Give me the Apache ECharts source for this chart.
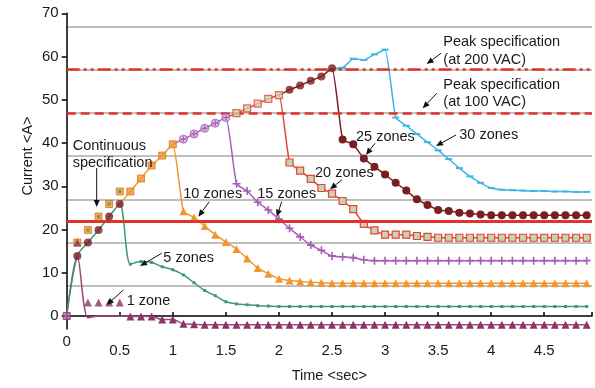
<!DOCTYPE html>
<html>
<head>
<meta charset="utf-8">
<script src="https://cdn.jsdelivr.net/npm/echarts@6/dist/echarts.min.js"></script>
<style>
  html, body { margin: 0; padding: 0; background: #fff; }
  #chart { width: 595px; height: 388px; }
</style>
</head>
<body>
<div id="chart"></div>
<script>
// sample times, sec
var times = [0, 0.1, 0.2, 0.3, 0.4, 0.5, 0.6, 0.7, 0.8, 0.9,
  1, 1.1, 1.2, 1.3, 1.4, 1.5, 1.6, 1.7, 1.8, 1.9,
  2, 2.1, 2.2, 2.3, 2.4, 2.5, 2.6, 2.7, 2.8, 2.9,
  3, 3.1, 3.2, 3.3, 3.4, 3.5, 3.6, 3.7, 3.8, 3.9,
  4, 4.1, 4.2, 4.3, 4.4, 4.5, 4.6, 4.7, 4.8, 4.9]

// common rising current (t = 0 .. 2.5)
var rise = [0, 13.9, 17.0, 19.9, 23.0, 25.9, 28.8, 31.8, 34.8, 37.1,
  39.7, 40.9, 42.1, 43.4, 44.6, 45.9, 46.9, 48.0, 49.1, 50.2,
  51.1, 52.3, 53.3, 54.4, 55.4, 57.3]

// values after each curve leaves the common rise
var oneZone = [-0.4, 0.0, 0.0, 0.0, -0.1, -0.1, -0.1, -0.8, -0.8, -1.8, -1.9,
  -2.0, -2.0, -2.0, -2.0, -2.0, -2.0, -2.0, -2.0, -2.0, -2.0, -2.0, -2.0, -2.0,
  -2.0, -2.0, -2.0, -2.0, -2.0, -2.0, -2.0, -2.0, -2.0, -2.0, -2.0, -2.0, -2.0,
  -2.0, -2.0, -2.0, -2.0, -2.0, -2.0, -2.0, -2.0, -2.0, -2.0, -2.0]
var fiveZones = [12.0, 12.6, 12.4, 11.4, 10.7, 9.5, 7.7, 5.9, 4.7, 3.3,
  2.8, 2.6, 2.4, 2.3, 2.2, 2.2, 2.2, 2.2, 2.2, 2.2, 2.2, 2.2, 2.2, 2.2, 2.2,
  2.2, 2.2, 2.2, 2.2, 2.2, 2.2, 2.2, 2.2, 2.2, 2.2, 2.2, 2.2, 2.2, 2.2, 2.2,
  2.2, 2.2, 2.2, 2.2]
var tenZones = [24.2, 22.8, 20.8, 18.8, 17.1, 15.5, 13.3, 11.1, 9.8, 8.6,
  8.2, 8.0, 7.8, 7.7, 7.6, 7.6, 7.6, 7.6, 7.6, 7.6, 7.6, 7.6, 7.6, 7.6, 7.6,
  7.6, 7.6, 7.6, 7.6, 7.6, 7.6, 7.6, 7.6, 7.6, 7.6, 7.6, 7.6, 7.6, 7.6]
var fifteenZones = [30.6, 28.9, 26.3, 24.5, 22.4, 20.3, 18.3, 16.4, 15.2, 13.9,
  13.7, 13.5, 13.0, 12.8, 12.8, 12.8, 12.8, 12.8, 12.8, 12.8, 12.8, 12.8, 12.8,
  12.8, 12.8, 12.8, 12.8, 12.8, 12.8, 12.8, 12.8, 12.8, 12.8, 12.8]
var twentyZones = [35.5, 33.6, 31.7, 29.6, 28.3, 26.6, 24.7, 21.3, 19.8, 18.8,
  18.8, 18.8, 18.5, 18.3, 18.1, 18.1, 18.1, 18.1, 18.1, 18.1, 18.1, 18.1, 18.1,
  18.1, 18.1, 18.1, 18.1, 18.1, 18.1]
var twentyFiveZones = [40.8, 39.7, 36.4, 34.5, 32.7, 30.8, 29.0, 27.0, 25.7, 24.5,
  24.3, 23.9, 23.7, 23.5, 23.3, 23.3, 23.3, 23.3, 23.3, 23.3, 23.3, 23.3, 23.3, 23.3]
var thirtyZones = [57.4, 59.5, 59.2, 60.5, 61.6, 45.9, 44.0, 42.1, 40.2, 38.3,
  36.3, 34.2, 32.3, 30.8, 29.6, 29.2, 29.1, 29.0, 28.9, 28.9, 28.8, 28.8, 28.7, 28.7]

// stray markers near the start
var earlyTimes = [0.1, 0.2, 0.3, 0.4, 0.5]
var earlyMarks = [17.0, 19.9, 23.0, 25.9, 28.8]
var earlyOneZone = [17.0, 3.1, 3.1, 3.1, 3.1]

// spec levels
var peak200 = 57
var peak100 = 47
var continuous = 22

var yLabels = [0, 10, 20, 30, 40, 50, 60, 70]

var FAMILY = '"Liberation Sans", Arial, sans-serif'
var FONT = '14.5px ' + FAMILY
var plus = 'path://M-1,-5H1V-1H5V1H1V5H-1V1H-5V-1H-1Z'

var maroon = { symbol: 'circle', symbolSize: 8, itemStyle: { color: '#7a1e22', borderWidth: 0 } }
var greenSq = { symbol: 'rect', symbolSize: 7, itemStyle: { color: '#c3d6ae', borderColor: '#e8413a', borderWidth: 1.2 } }

function riseMarker(i) {
  if (i === 0) return { symbol: 'rect', symbolSize: 7, itemStyle: { color: '#b0608e', borderColor: '#8b3566', borderWidth: 1 } }
  if (i <= 5) return maroon
  if (i <= 10) return { symbol: 'rect', symbolSize: 7, itemStyle: { color: '#f0962e', borderColor: '#d9781a', borderWidth: 1 } }
  if (i <= 15) return { symbol: 'circle', symbolSize: 8, itemStyle: { color: '#d2aede', borderColor: '#9b50ae', borderWidth: 1 } }
  if (i <= 20) return greenSq
  return maroon
}

var zones = [
  { name: '1 zone', color: '#a0487c', from: 0, peak: 1, decay: oneZone, smooth: 0.3, markFrom: 0.55,
    mark: { symbol: 'triangle', symbolSize: 8, itemStyle: { color: '#8b3566' } } },
  { name: '5 zones', color: '#3d9a6b', from: 0, peak: 5, decay: fiveZones, smooth: 0.3,
    mark: { symbol: 'rect', symbolSize: 3, itemStyle: { color: '#3d9a6b' } } },
  { name: '10 zones', color: '#f0962e', from: 5, peak: 10, decay: tenZones, smooth: 0.15,
    mark: { symbol: 'triangle', symbolSize: 8, itemStyle: { color: '#f0962e' } } },
  { name: '15 zones', color: '#a65db8', from: 10, peak: 15, decay: fifteenZones, smooth: 0.15,
    mark: { symbol: plus, symbolSize: 8, itemStyle: { color: '#a65db8' } } },
  { name: '20 zones', color: '#e8413a', from: 15, peak: 20, decay: twentyZones, smooth: 0.15, mark: greenSq },
  { name: '25 zones', color: '#7a1e22', from: 20, peak: 25, decay: twentyFiveZones, smooth: 0.15, mark: maroon },
  { name: '30 zones', color: '#3db7e4', from: 25, peak: 25, decay: thirtyZones, smooth: 0.15,
    mark: { symbol: 'rect', symbolSize: [7, 2], itemStyle: { color: '#3db7e4' } } }
]

var series = []

// spec lines
series.push({
  type: 'line', data: [], z: 3, silent: true,
  markLine: {
    silent: true, symbol: 'none', label: { show: false },
    data: [
      { yAxis: peak200, lineStyle: { color: '#e2322b', width: 2.5, type: [13, 4, 3, 4, 3, 4] } },
      { yAxis: peak100, lineStyle: { color: '#e2322b', width: 2.5, type: [9, 5] } },
      { yAxis: continuous, lineStyle: { color: '#e2322b', width: 3, type: 'solid' } }
    ]
  }
})

zones.forEach(function (z) {
  var data = []
  for (var i = z.from; i <= z.peak; i++) {
    data.push({ value: [times[i], rise[i]], symbol: 'none' })
  }
  z.decay.forEach(function (v, j) {
    var t = times[z.peak + 1 + j]
    var item = { value: [t, v] }
    if (z.markFrom && t < z.markFrom) item.symbol = 'none'
    data.push(item)
  })
  series.push({
    name: z.name, type: 'line', z: 4, smooth: z.smooth,
    data: data,
    showAllSymbol: true,
    symbol: z.mark.symbol, symbolSize: z.mark.symbolSize,
    itemStyle: z.mark.itemStyle,
    lineStyle: { color: z.color, width: 1.5 }
  })
})

// markers sitting on the common rise
series.push({
  type: 'scatter', z: 6,
  data: rise.map(function (v, i) {
    return Object.assign({ value: [times[i], v] }, riseMarker(i))
  })
})
series.push({
  type: 'scatter', z: 7, symbol: plus, symbolSize: 6,
  itemStyle: { color: '#9b50ae' },
  data: rise.slice(11, 16).map(function (v, i) { return [times[11 + i], v] })
})

// stray early markers
series.push({
  type: 'scatter', z: 6, symbol: 'rect', symbolSize: 7,
  itemStyle: { color: '#f0962e', borderColor: '#d9781a', borderWidth: 1 },
  data: earlyMarks.map(function (v, i) { return [earlyTimes[i], v] })
})
series.push({
  type: 'scatter', z: 7, symbol: 'rect', symbolSize: 3,
  itemStyle: { color: '#3d9a6b' },
  data: earlyMarks.map(function (v, i) { return [earlyTimes[i], v] })
})
series.push({
  type: 'scatter', z: 7, symbol: 'triangle', symbolSize: 8,
  itemStyle: { color: '#8b3566' },
  data: earlyOneZone.map(function (v, i) { return [earlyTimes[i], v] })
})

// annotations
function text(x, y, s) {
  return { type: 'text', x: x, y: y, z: 100, style: { text: s, font: FONT, fill: '#1a1a1a', verticalAlign: 'middle' } }
}
function arrow(x1, y1, x2, y2) {
  var a = Math.atan2(y2 - y1, x2 - x1), L = 7, W = 3
  var bx = x2 - L * Math.cos(a), by = y2 - L * Math.sin(a)
  return [
    { type: 'line', z: 100, shape: { x1: x1, y1: y1, x2: bx, y2: by }, style: { stroke: '#111', lineWidth: 1 } },
    { type: 'polygon', z: 100, shape: { points: [[x2, y2], [bx - W * Math.sin(a), by + W * Math.cos(a)], [bx + W * Math.sin(a), by - W * Math.cos(a)]] },
      style: { fill: '#111' } }
  ]
}

var graphic = [
  { type: 'text', x: 28, y: 156, rotation: Math.PI / 2, z: 100,
    style: { text: 'Current <A>', font: FONT, fill: '#1a1a1a', align: 'center', verticalAlign: 'middle' } },
  { type: 'text', x: 66.7, y: 342, z: 100,
    style: { text: '0', font: '15px ' + FAMILY, fill: '#1a1a1a', align: 'center', verticalAlign: 'middle' } },
  text(72.7, 146, 'Continuous'), text(72.7, 163, 'specification'),
  text(126.7, 300.7, '1 zone'),
  text(163.3, 258.3, '5 zones'),
  text(183.3, 194, '10 zones'),
  text(257.3, 194, '15 zones'),
  text(315, 173.3, '20 zones'),
  text(356, 137.3, '25 zones'),
  text(459.3, 135, '30 zones'),
  text(443.3, 41.7, 'Peak specification'), text(443.3, 60, '(at 200 VAC)'),
  text(443.3, 85, 'Peak specification'), text(443.3, 101.7, '(at 100 VAC)')
].concat(
  arrow(96.7, 168, 96.7, 207),
  arrow(123.3, 290, 106.7, 305),
  arrow(161.7, 253.3, 140, 266),
  arrow(209.3, 201.7, 198.3, 216.7),
  arrow(281.7, 201.7, 276.7, 216.7),
  arrow(341.7, 180, 330, 189.3),
  arrow(375, 143.3, 366, 155),
  arrow(456, 135, 436, 146),
  arrow(441, 53.3, 426.7, 64),
  arrow(436.7, 93.3, 422.7, 108.3)
)

var chart = echarts.init(document.getElementById('chart'))
chart.setOption({
  animation: false,
  grid: { left: 66.7, right: 0, top: 13.3, bottom: 53 },
  xAxis: {
    type: 'value', min: 0, max: 4.95, interval: 0.5,
    name: 'Time <sec>', nameLocation: 'middle', nameGap: 39,
    nameTextStyle: { fontSize: 14.5, fontFamily: FAMILY, color: '#1a1a1a' },
    axisLine: { lineStyle: { color: '#000', width: 1.5 } },
    axisTick: { inside: true, length: 4, lineStyle: { color: '#000', width: 1.5 } },
    axisLabel: {
      margin: 14, fontSize: 15, fontFamily: FAMILY, color: '#1a1a1a',
      formatter: function (v) { return (v === 0 || v > 4.9) ? '' : String(v) }
    },
    splitLine: { show: false }
  },
  yAxis: [{
    type: 'value', position: 'left', min: -3, max: 70, interval: 10,
    axisLine: { show: true, lineStyle: { color: '#000', width: 1.5 } },
    axisTick: { show: false },
    axisLabel: { show: false },
    splitLine: { show: true, showMinLine: false, showMaxLine: false, lineStyle: { color: '#aaaaaa', width: 1.5 } }
  }, {
    type: 'value', position: 'left', min: -3, max: 70,
    axisLine: { show: false },
    axisTick: { show: true, length: 5, customValues: yLabels, lineStyle: { color: '#000', width: 1.5 } },
    axisLabel: { margin: 8, customValues: yLabels, fontSize: 15, fontFamily: FAMILY, color: '#1a1a1a' },
    splitLine: { show: false }
  }],
  series: series,
  graphic: graphic
})
</script>
</body>
</html>
